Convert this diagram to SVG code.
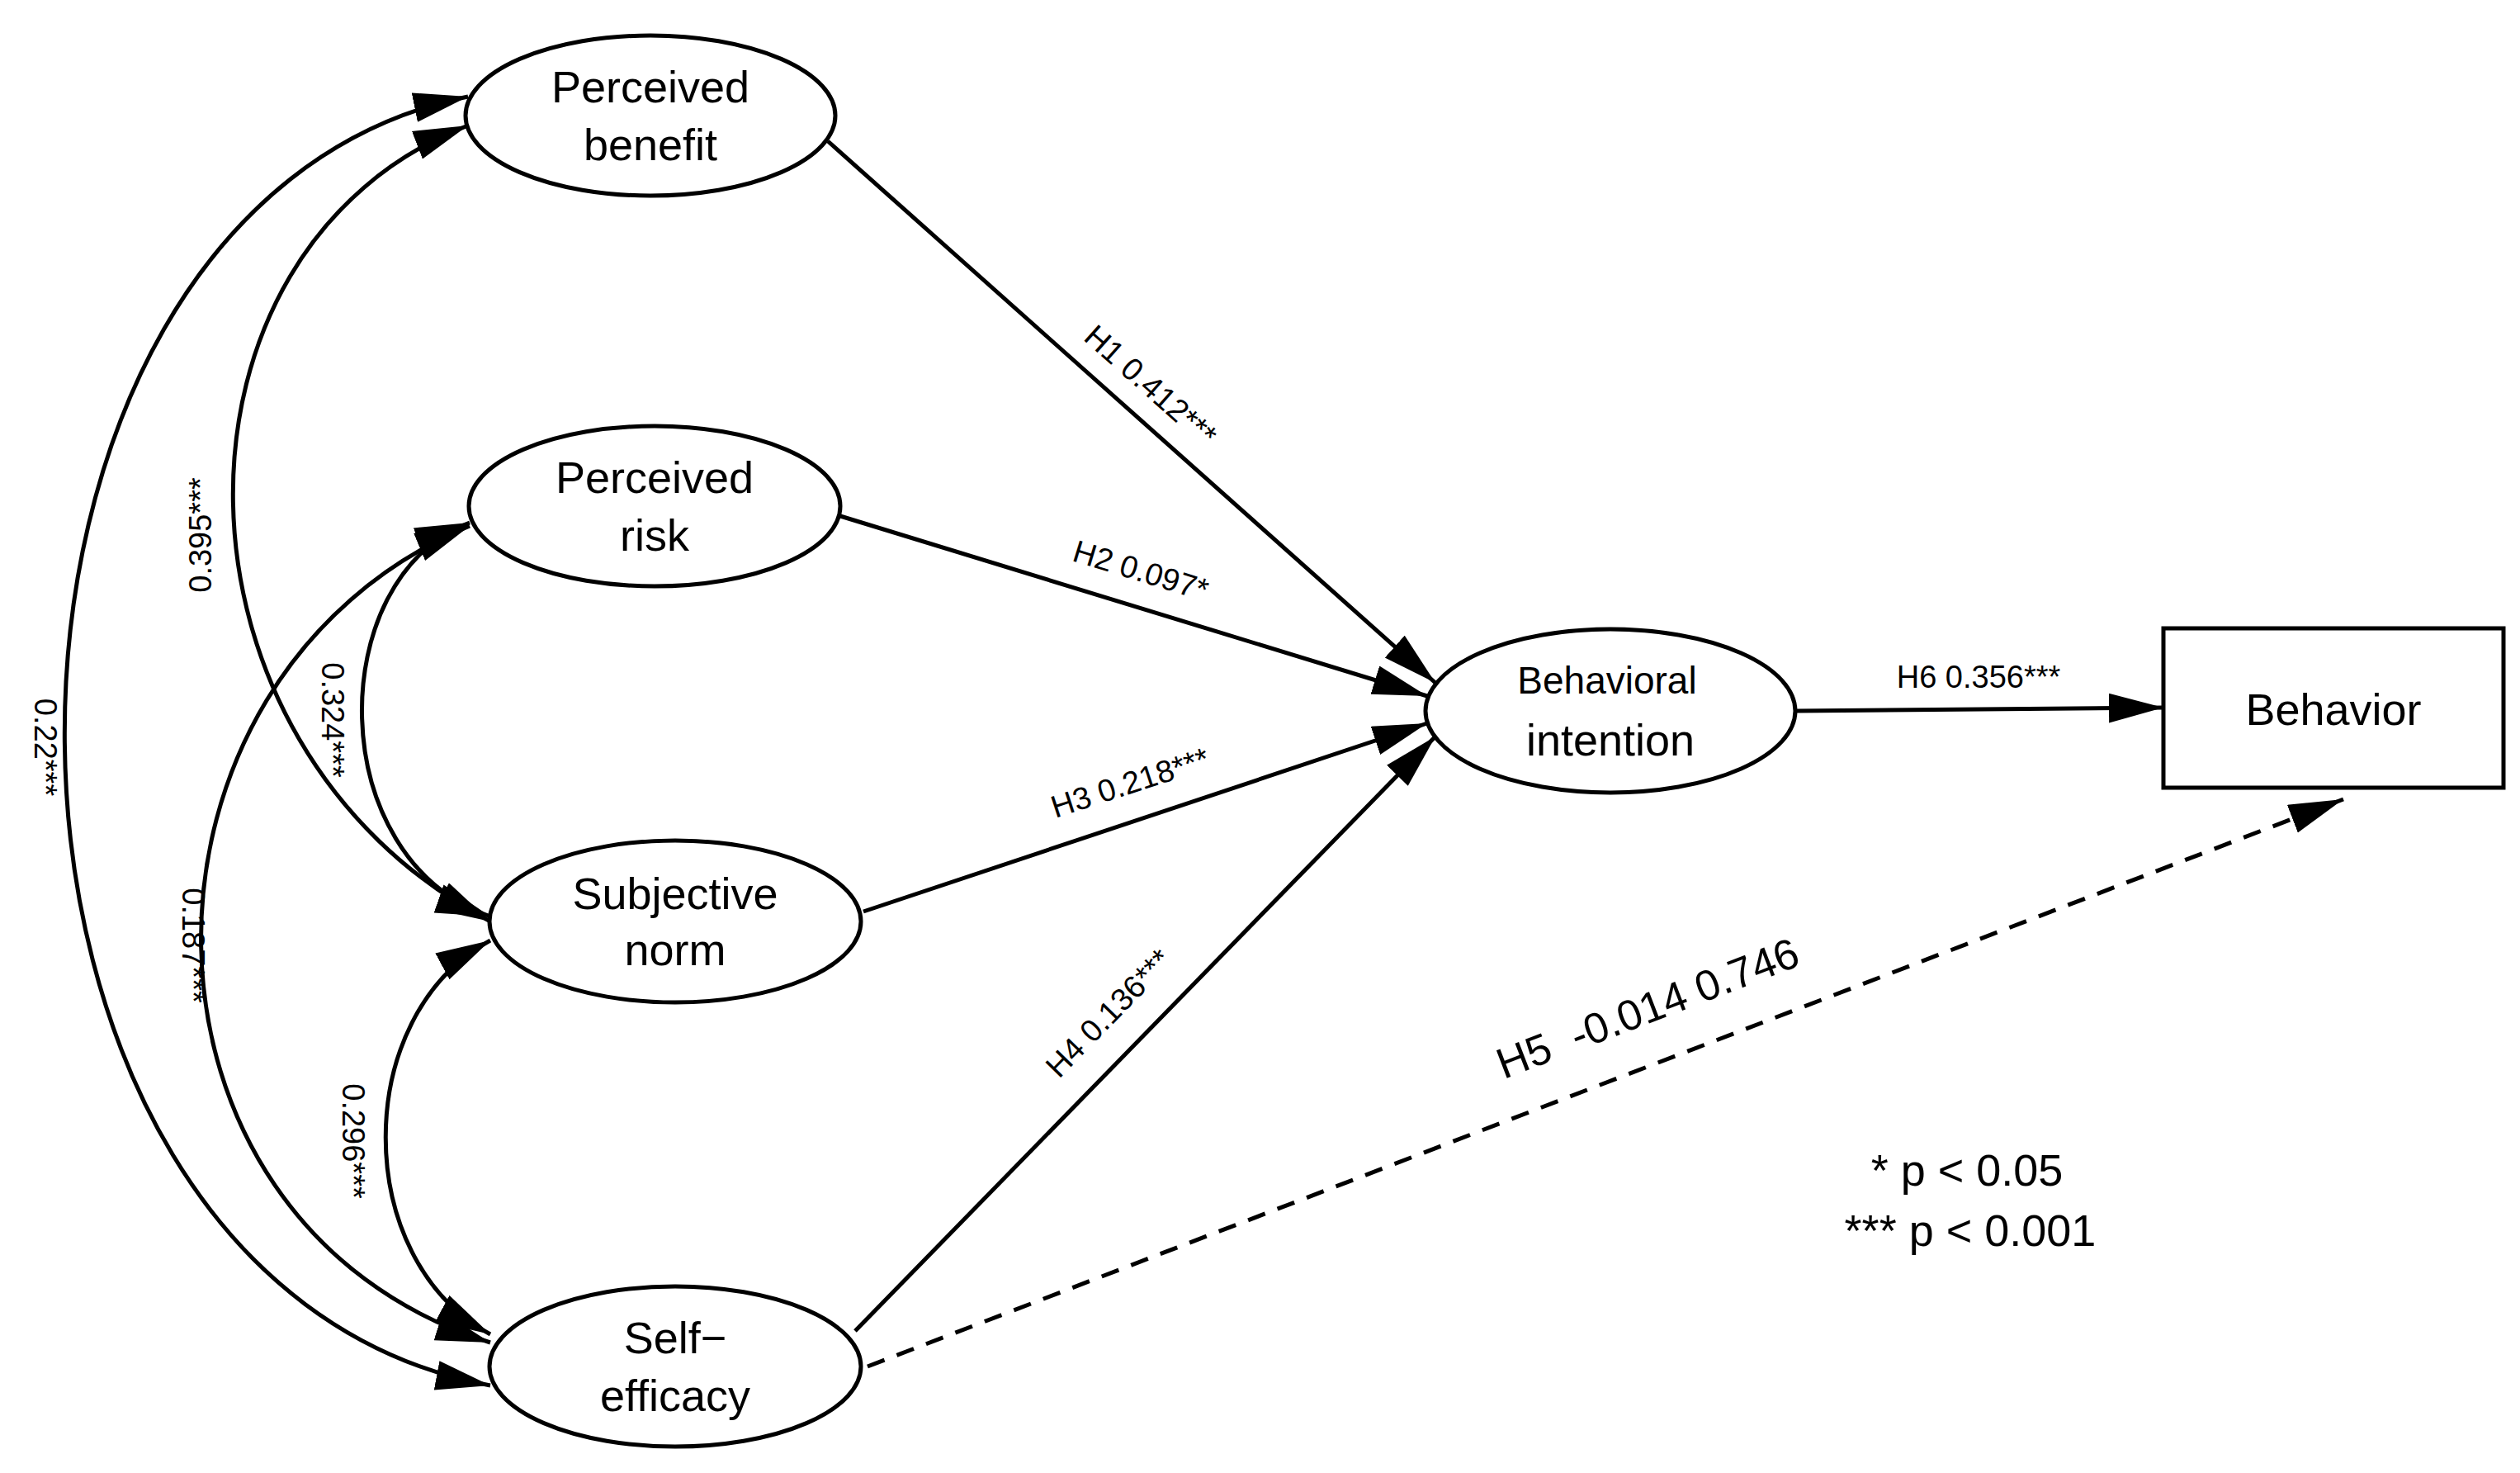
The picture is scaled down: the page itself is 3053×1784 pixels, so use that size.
<svg xmlns="http://www.w3.org/2000/svg" width="3053" height="1784" viewBox="0 0 3053 1784">
<style>
.n{fill:#fff;stroke:#000;stroke-width:5}
.t{font-family:"Liberation Sans",Arial,sans-serif;font-size:54px;text-anchor:middle;dominant-baseline:central;fill:#000}
.l{font-family:"Liberation Sans",Arial,sans-serif;font-size:38px;text-anchor:middle;dominant-baseline:central;fill:#000}
.e{fill:none;stroke:#000;stroke-width:5}
.c{marker-start:url(#a);marker-end:url(#a)}
.s{marker-end:url(#a)}
</style>
<defs>
<marker id="a" markerUnits="userSpaceOnUse" markerWidth="70" markerHeight="40" refX="66" refY="18" orient="auto-start-reverse" viewBox="0 0 70 40"><path d="M0,0 L66,18 L0,36 z" fill="#000"/></marker>
</defs>
<g id="connectors">
<path class="e c" d="M594,1678 C-89,1550 -89,250 567,117"/>
<path class="e c" d="M567,152 C183,300 183,900 594,1116"/>
<path class="e c" d="M569,633 C391,700 391,1040 594,1110"/>
<path class="e c" d="M569,637 C131,820 131,1480 594,1626"/>
<path class="e c" d="M594,1139 C425,1230 425,1525 594,1616"/>
<line class="e s" x1="1003" y1="171" x2="1739" y2="827"/>
<line class="e s" x1="1018" y1="625" x2="1729" y2="843"/>
<line class="e s" x1="1046" y1="1104" x2="1729" y2="876"/>
<line class="e s" x1="1036" y1="1612" x2="1739" y2="892"/>
<line class="e s" x1="2177" y1="861" x2="2621" y2="857"/>
<line class="e s" x1="1051" y1="1655" x2="2839" y2="968" stroke-dasharray="22,16"/>
<text class="l" transform="translate(55,905) rotate(90)">0.22***</text>
<text class="l" transform="translate(243,648) rotate(-90)">0.395***</text>
<text class="l" transform="translate(403,872) rotate(90)">0.324***</text>
<text class="l" transform="translate(234,1145) rotate(90)">0.187***</text>
<text class="l" transform="translate(428,1382) rotate(90)">0.296***</text>
<text class="l" transform="translate(1394,467) rotate(41.7)">H1 0.412***</text>
<text class="l" transform="translate(1382,691) rotate(17)">H2 0.097*</text>
<text class="l" transform="translate(1369,948) rotate(-18)">H3 0.218***</text>
<text class="l" transform="translate(1343,1227) rotate(-45.7)">H4 0.136***</text>
<text class="l" x="2397" y="820">H6 0.356***</text>
<text class="l" style="font-size:52px" transform="translate(1996,1221) rotate(-21)" xml:space="preserve">H5  -0.014 0.746</text>
<text class="t" x="2383" y="1417">* p &lt; 0.05</text>
<text class="t" x="2387" y="1490">*** p &lt; 0.001</text>
</g>
<g id="perceived-benefit"><ellipse class="n" cx="788" cy="140" rx="224" ry="97"/><text class="t" x="788" y="105">Perceived</text><text class="t" x="788" y="175">benefit</text></g>
<g id="perceived-risk"><ellipse class="n" cx="793" cy="613" rx="225" ry="97"/><text class="t" x="793" y="578">Perceived</text><text class="t" x="793" y="648">risk</text></g>
<g id="subjective-norm"><ellipse class="n" cx="818" cy="1116" rx="225" ry="98"/><text class="t" x="818" y="1082">Subjective</text><text class="t" x="818" y="1150">norm</text></g>
<g id="self-efficacy"><ellipse class="n" cx="818" cy="1655" rx="225" ry="97"/><text class="t" x="818" y="1620">Self−</text><text class="t" x="818" y="1690">efficacy</text></g>
<g id="behavioral-intention"><ellipse class="n" cx="1951" cy="861" rx="224" ry="99"/><text class="t" style="font-size:46px" x="1947" y="824">Behavioral</text><text class="t" x="1951" y="896">intention</text></g>
<g id="behavior"><rect class="n" x="2621" y="761" width="412" height="193"/><text class="t" x="2827" y="859">Behavior</text></g>
</svg>
